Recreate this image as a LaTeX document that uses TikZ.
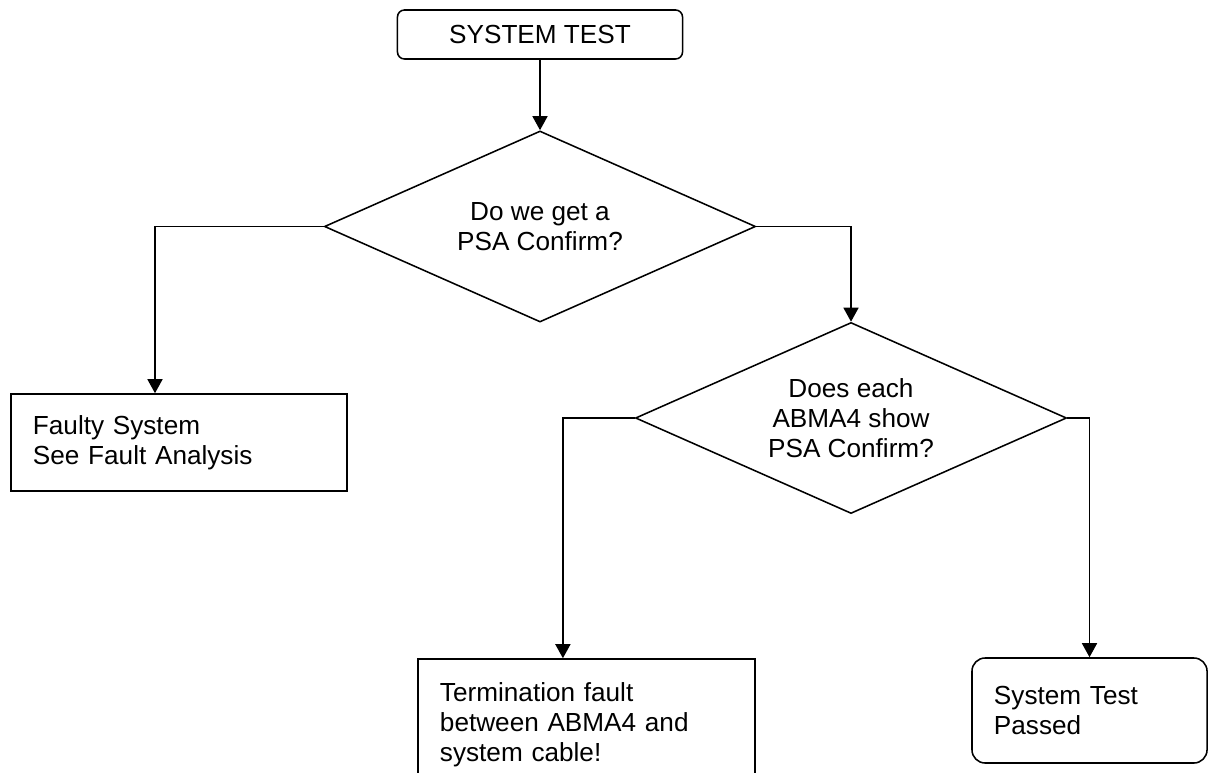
\documentclass[tikz,border=0pt]{standalone}
\usepackage{fontspec}
\setmainfont{Liberation Sans}
\usepackage{tikz}
\usetikzlibrary{positioning,arrows.meta,shapes.geometric}
\tikzset{
  base/.style={draw=black, line width=1.1pt,
               font=\fontsize{18.6pt}{21.5pt}\selectfont},
  startbox/.style={base, rectangle, rounded corners=5pt,
                   minimum width=7.125cm, minimum height=1.225cm},
  decision/.style={base, diamond, aspect=2.25, align=center, inner sep=0pt,
                   minimum width=10.775cm, minimum height=4.775cm},
  proc/.style={base, rectangle, align=left, text width=#1,
               inner xsep=0.55cm, inner ysep=0pt},
  arr/.style={-{Triangle[length=3.5mm,width=3.75mm]}, line width=1.1pt},
}
\begin{document}
\begin{tikzpicture}[x=0.025cm, y=-0.025cm]
  \useasboundingbox (0,0) rectangle (1208,773);
  \node[startbox] (start) at (540,34.5) {SYSTEM TEST};
  \node[decision] (q1) at (540,226.5) {Do we get a\\PSA Confirm?};
  \node[proc=7.3cm, minimum height=2.425cm] (fault) at (179,442.5)
       {Faulty System\\See Fault Analysis};
  \node[decision] (q2) at (851,418) {Does each\\ABMA4 show\\PSA Confirm?};
  \node[proc=7.325cm, minimum height=3.275cm] (term) at (586.5,724.5)
       {Termination fault\\between ABMA4 and\\system cable!};
  \node[proc=4.775cm, rounded corners=0.33cm, minimum height=2.625cm] (pass)
       at (1089.5,710.5) {System Test\\Passed};

  \draw[arr] (start) -- (q1);
  \draw[arr] (q1.west) -| ([xshift=-0.6cm]fault.north);
  \draw[arr] (q1.east) -| (q2.north);
  \draw[arr] (q2.west) -| ([xshift=-0.59cm]term.north);
  \draw[arr] (q2.east) -| (pass.north);
\end{tikzpicture}
\end{document}
